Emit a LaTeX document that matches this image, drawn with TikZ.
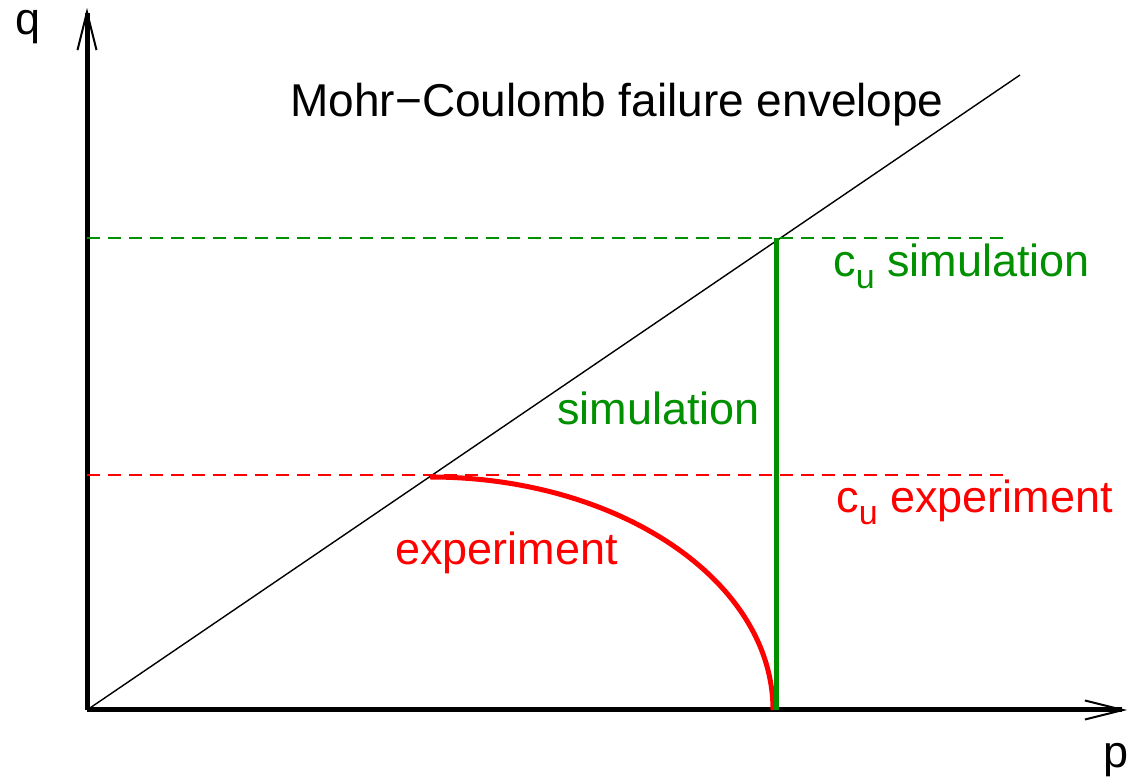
\documentclass[tikz,border=0pt]{standalone}
\usepackage{fontspec}
\setmainfont{Liberation Sans}
\usepackage{xcolor}
\usetikzlibrary{arrows.meta}
\definecolor{simgreen}{RGB}{0,144,0}
\definecolor{expred}{RGB}{255,0,0}
\newcommand{\cusub}{c\raisebox{-6pt}{\fontsize{17}{17}\selectfont u}}

\begin{document}
\begin{tikzpicture}[x=0.5pt,y=0.5pt,font=\fontsize{22.5}{27}\selectfont,
  axis/.style={line width=2.5pt,-{Straight Barb[length=19pt,width=9.5pt,line width=1pt]}},
  level/.style={dash pattern=on 6.5pt off 4pt,line width=0.75pt},
  lbl/.style={inner sep=0pt,anchor=base west}]
  \useasboundingbox (0,0) rectangle (1129,781);
  \coordinate (O) at (87,71);
  \coordinate (qtip) at (87,773);
  \coordinate (ptip) at (1127,71);
  \coordinate (env) at (1020,706);
  % axes
  \draw[axis] (O) -- (qtip);
  \draw[axis] (O) -- (ptip);
  \node[lbl] (q) at (15,746) {q};
  \node[lbl] (p) at (1103,13) {p};
  % failure envelope
  \draw[line width=0.7pt] (O) -- (env);
  \node[lbl,font=\fontsize{23}{27}\selectfont] (mc) at (290,664) {Mohr−Coulomb failure envelope};
  % undrained strength levels
  \coordinate (gl) at (87,543);
  \coordinate (gr) at (1010,543);
  \coordinate (rl) at (87,306);
  \coordinate (rr) at (1005,306);
  \draw[level,simgreen] (gl) -- (gr);
  \draw[level,expred] (rl) -- (rr);
  % experiment stress path
  \coordinate (expA) at (430,304);
  \draw[expred,line width=2.5pt] (expA) arc[start angle=90,end angle=0,x radius=343,y radius=233] coordinate (expB);
  % simulation stress path
  \coordinate (simtop) at (776,543);
  \coordinate (simbot) at (776,71);
  \draw[simgreen,line width=2.5pt] (simbot) -- (simtop);
  \node[lbl,simgreen] (sim) at (557,356) {simulation};
  \node[lbl,expred] (exp) at (395,216) {experiment};
  \node[lbl,simgreen] (cusim) at (833,504) {\cusub{} simulation};
  \node[lbl,expred] (cuexp) at (836,268) {\cusub{} experiment};
\end{tikzpicture}
\end{document}
